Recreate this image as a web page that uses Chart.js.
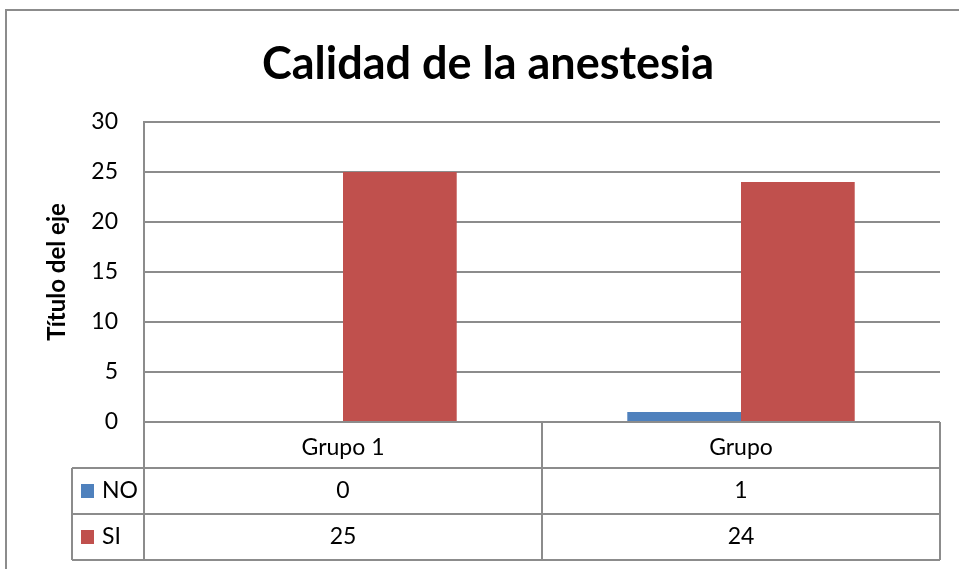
<!DOCTYPE html>
<html>
<head>
<meta charset="utf-8">
<script src="https://cdn.jsdelivr.net/npm/chart.js@4/dist/chart.umd.min.js"></script>
<style>
  html, body { margin: 0; padding: 0; background: #fff; }
  #wrap { width: 959px; height: 569px; position: relative; }
</style>
</head>
<body>
<div id="wrap"><canvas id="chart"></canvas></div>
<script>
// data
const categories = ['Grupo 1', 'Grupo'];
const seriesNames = ['NO', 'SI'];
const noValues = [0, 1];
const siValues = [25, 24];
const yTicks = [0, 5, 10, 15, 20, 25, 30];

const blue = '#4F81BD';
const red = '#C0504D';
const lineGrey = '#8c8c8c';
const fontFamily = 'Lato, "Liberation Sans", sans-serif';

// outer frame + data table under the x axis
const tablePlugin = {
  id: 'dataTable',
  beforeDraw(chart) {
    const ctx = chart.ctx;
    ctx.save();
    ctx.fillStyle = '#fff';
    ctx.fillRect(0, 0, chart.width, chart.height);
    ctx.strokeStyle = lineGrey;
    ctx.lineWidth = 2;
    ctx.strokeRect(6, 10, chart.width + 20, chart.height + 20);
    ctx.restore();
  },
  afterDraw(chart) {
    const ctx = chart.ctx;
    const xs = chart.scales.x;
    const rowH = xs.bottom - xs.top;
    const colW = xs.width / categories.length;
    const keyLeft = xs.left - 72;
    const rows = chart.data.datasets.length;
    const tableBottom = xs.bottom + rowH * rows;

    ctx.save();
    ctx.strokeStyle = lineGrey;
    ctx.lineWidth = 2;
    const line = (x1, y1, x2, y2) => {
      ctx.beginPath(); ctx.moveTo(x1, y1); ctx.lineTo(x2, y2); ctx.stroke();
    };
    for (let i = 0; i <= categories.length; i++) {
      const px = xs.left + i * colW;
      line(px, xs.top, px, tableBottom);
    }
    line(keyLeft, xs.bottom, keyLeft, tableBottom);
    for (let r = 0; r <= rows; r++) {
      line(keyLeft, xs.bottom + r * rowH, xs.right, xs.bottom + r * rowH);
    }

    ctx.font = '23px ' + fontFamily;
    ctx.textBaseline = 'middle';
    chart.data.datasets.forEach((ds, r) => {
      const cy = xs.bottom + r * rowH + rowH / 2;
      ctx.fillStyle = ds.backgroundColor;
      ctx.fillRect(keyLeft + 9, cy - 7, 13, 14);
      ctx.fillStyle = '#000';
      ctx.textAlign = 'left';
      ctx.fillText(ds.label, keyLeft + 30, cy);
      ctx.textAlign = 'center';
      ds.data.forEach((v, i) => {
        ctx.fillText(String(v), xs.getPixelForValue(i), cy);
      });
    });
    ctx.restore();
  }
};

new Chart(document.getElementById('chart'), {
  type: 'bar',
  data: {
    labels: categories,
    datasets: [
      { label: seriesNames[0], data: noValues, backgroundColor: blue },
      { label: seriesNames[1], data: siValues, backgroundColor: red }
    ]
  },
  options: {
    responsive: true,
    maintainAspectRatio: false,
    animation: false,
    layout: { padding: { top: 0, left: 36, right: 19, bottom: 101 } },
    datasets: { bar: { categoryPercentage: 2 / 3.5, barPercentage: 1 } },
    plugins: {
      legend: { display: false },
      tooltip: { enabled: false },
      title: {
        display: true,
        text: 'Calidad de la anestesia',
        color: '#000',
        font: { family: fontFamily, size: 45, weight: 'bold' },
        padding: { top: 37, bottom: 31 }
      }
    },
    scales: {
      x: {
        grid: { display: false },
        border: { display: false },
        ticks: { color: '#000', font: { family: fontFamily, size: 23 }, padding: 4 },
        afterFit(scale) { scale.height = 46; }
      },
      y: {
        min: 0,
        max: 30,
        afterBuildTicks(scale) { scale.ticks = yTicks.map(v => ({ value: v })); },
        grid: { color: lineGrey, lineWidth: 2, drawTicks: false },
        border: { display: true, color: lineGrey, width: 2 },
        ticks: { color: '#000', font: { family: fontFamily, size: 23 }, padding: 26 },
        title: {
          display: true,
          text: 'Título del eje',
          color: '#000',
          font: { family: fontFamily, size: 24, weight: 'bold' },
          padding: { top: 7, bottom: 0 }
        },
        afterFit(scale) { scale.width = 108; }
      }
    }
  },
  plugins: [tablePlugin]
});
</script>
</body>
</html>
